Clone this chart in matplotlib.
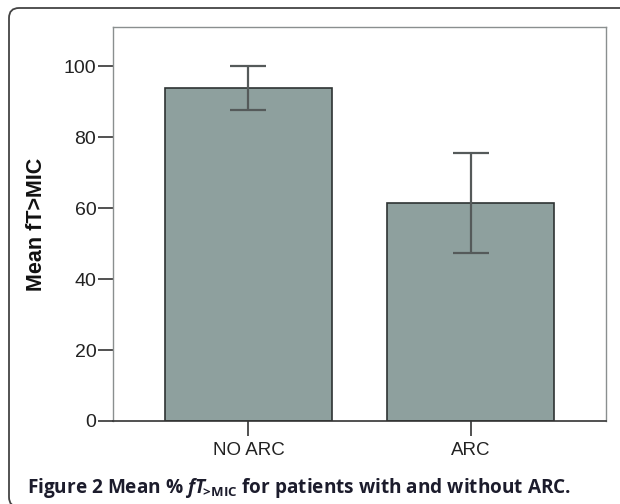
import matplotlib
matplotlib.use("Agg")
import matplotlib.pyplot as plt
from matplotlib.patches import FancyBboxPatch

# data
groups = ["NO ARC", "ARC"]
mean_ft = [93.7, 61.5]
err_low = [87.6, 47.2]
err_high = [100.0, 75.4]
y_ticks = [0, 20, 40, 60, 80, 100]

plt.rcParams['mathtext.fontset'] = 'custom'
plt.rcParams['mathtext.rm'] = 'Open Sans:bold'
plt.rcParams['mathtext.it'] = 'Open Sans:italic:bold'
plt.rcParams['mathtext.bf'] = 'Open Sans:bold'

fig = plt.figure(figsize=(6.2, 5.04), dpi=100)
ax = fig.add_axes([0.1823, 0.1647, 0.7952, 0.7817])

x = list(range(len(groups)))
yerr = [[m - lo for m, lo in zip(mean_ft, err_low)],
        [hi - m for m, hi in zip(mean_ft, err_high)]]

ax.bar(x, mean_ft, width=0.75, color="#8ea09e", edgecolor="#2e3333", linewidth=1.2, zorder=2)
ax.errorbar(x, mean_ft, yerr=yerr, fmt="none", ecolor="#555a5a", elinewidth=1.6,
            capsize=13, capthick=1.6, zorder=3)

ax.set_xlim(-0.61, 1.61)
ax.set_ylim(0, 111)
ax.set_xticks(x)
ax.set_xticklabels(groups, fontfamily="Liberation Sans", fontsize=13.5)
ax.set_yticks(y_ticks)
ax.set_yticklabels([str(t) for t in y_ticks], fontfamily="Liberation Sans", fontsize=14)
ax.tick_params(axis="y", direction="out", length=11, width=1.2, color="#333333", pad=1, labelcolor="#222222")
ax.tick_params(axis="x", direction="out", length=11, width=1.2, color="#333333", pad=4, labelcolor="#222222")

for side in ["left", "top", "right"]:
    ax.spines[side].set_color("#8a8f8f")
    ax.spines[side].set_linewidth(1.0)
ax.spines["bottom"].set_color("#333333")
ax.spines["bottom"].set_linewidth(1.2)

ax.set_ylabel("Mean fT>MIC", fontfamily="Liberation Sans", fontweight="bold", fontsize=15.5, color="#111111")
ax.yaxis.set_label_coords(-0.134, 0.5)

# caption under the chart
fig.text(27 / 620, 0.022,
         r"Figure 2 Mean % $\mathit{fT}_{\!\!\mathrm{>}\!\mathrm{MIC}}$ for patients with and without ARC.",
         fontfamily="Open Sans", fontweight="bold", fontsize=13.7, color="#1c1c2c", va="baseline")

# rounded frame round the figure (clipped at right and bottom)
frame = FancyBboxPatch((9, -3), 700, 504 - 8 + 3, boxstyle="round,pad=0,rounding_size=10",
                       fill=False, edgecolor="#444444", linewidth=1.3, transform=None)
fig.patches.append(frame)

fig.savefig("out.png", dpi=100)
